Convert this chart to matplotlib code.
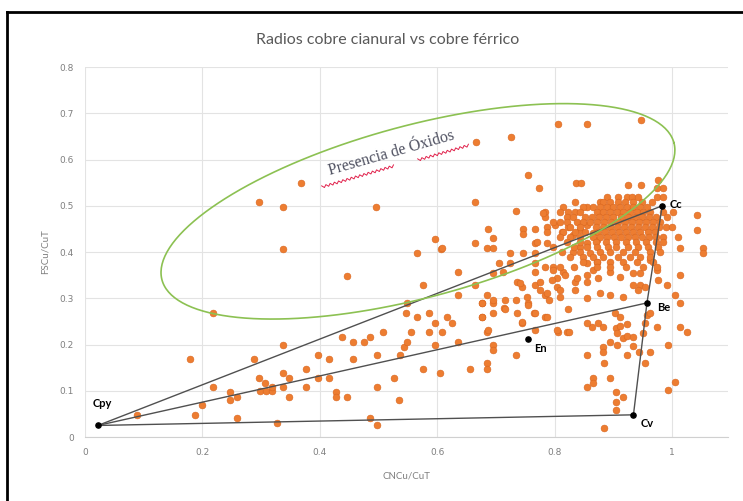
"""
Radios cobre cianural vs cobre férrico: dispersión CNCu/CuT vs FSCu/CuT
con los polos mineralógicos (Cpy, Cc, Be, Cv, En) y la zona de óxidos.
Salida: out.png
"""
import matplotlib
matplotlib.use("Agg")
import matplotlib.pyplot as plt  # noqa: E402
import numpy as np  # noqa: E402
from matplotlib.lines import Line2D  # noqa: E402

# --- Muestras dispersas (CNCu/CuT, FSCu/CuT) ---
bajos_x = [0.179, 0.218, 0.089, 0.187, 0.199, 0.218, 0.247, 0.247, 0.259, 0.259,
           0.288, 0.296, 0.307, 0.298, 0.309, 0.318, 0.318, 0.327, 0.337, 0.337,
           0.337, 0.348, 0.348, 0.376, 0.376, 0.397, 0.397, 0.416, 0.416, 0.428,
           0.428, 0.438, 0.446, 0.457, 0.457, 0.475, 0.486, 0.508, 0.497, 0.497,
           0.526, 0.535, 0.486, 0.497, 0.537, 0.543, 0.549, 0.555, 0.547, 0.566,
           0.586, 0.586, 0.596, 0.608, 0.625, 0.617, 0.596, 0.635, 0.576, 0.605,
           0.656, 0.685, 0.685, 0.676, 0.685, 0.695, 0.695, 0.695, 0.714, 0.734,
           0.744, 0.765, 0.784, 0.806, 0.821, 0.676, 0.695, 0.754]
bajos_y = [0.168, 0.268, 0.048, 0.048, 0.069, 0.108, 0.097, 0.080, 0.086, 0.041,
           0.168, 0.127, 0.117, 0.100, 0.100, 0.100, 0.108, 0.030, 0.198, 0.138,
           0.108, 0.127, 0.086, 0.147, 0.108, 0.177, 0.127, 0.168, 0.127, 0.097,
           0.086, 0.216, 0.086, 0.205, 0.168, 0.205, 0.216, 0.227, 0.177, 0.108,
           0.127, 0.080, 0.041, 0.026, 0.177, 0.194, 0.205, 0.227, 0.268, 0.259,
           0.268, 0.227, 0.246, 0.227, 0.246, 0.259, 0.199, 0.205, 0.147, 0.138,
           0.147, 0.160, 0.147, 0.259, 0.227, 0.268, 0.199, 0.188, 0.279, 0.177,
           0.246, 0.268, 0.259, 0.227, 0.227, 0.290, 0.290, 0.290]

oxidos_x = [0.296, 0.337, 0.368, 0.337, 0.446, 0.496, 0.666, 0.726, 0.806, 0.855,
            0.947, 0.755, 0.773, 0.664, 0.734, 0.784, 0.784, 0.814, 0.835, 0.855,
            0.836, 0.845, 0.925, 0.947, 0.976, 0.985, 0.596, 0.606, 0.566, 0.576,
            0.549, 0.636, 0.608, 0.636]
oxidos_y = [0.508, 0.497, 0.549, 0.406, 0.348, 0.497, 0.637, 0.648, 0.676, 0.676,
            0.685, 0.566, 0.538, 0.508, 0.488, 0.486, 0.475, 0.497, 0.508, 0.497,
            0.549, 0.549, 0.544, 0.544, 0.555, 0.538, 0.428, 0.406, 0.397, 0.328,
            0.290, 0.356, 0.408, 0.307]

medios_x = [0.686, 0.746, 0.746, 0.767, 0.695, 0.664, 0.685, 0.695, 0.724, 0.746,
            0.767, 0.767, 0.787, 0.705, 0.724, 0.767, 0.767, 0.695, 0.712, 0.797,
            0.814, 0.664, 0.736, 0.744, 0.767, 0.775, 0.804, 0.804, 0.835, 0.835,
            0.855, 0.855, 0.685, 0.695, 0.716, 0.734, 0.755, 0.784, 0.790, 0.676,
            0.716, 0.736, 0.767, 0.787, 0.823, 0.676, 0.686, 0.744, 0.767, 0.804,
            0.864, 0.780, 0.801, 0.813, 0.823, 0.831, 0.843, 0.855, 0.865, 0.872,
            0.855, 0.843, 0.831, 0.860, 0.872, 0.855, 0.865, 0.753, 0.741, 0.775,
            0.796, 0.809]
medios_y = [0.449, 0.449, 0.440, 0.449, 0.430, 0.419, 0.408, 0.408, 0.397, 0.397,
            0.419, 0.397, 0.419, 0.376, 0.376, 0.376, 0.356, 0.354, 0.356, 0.367,
            0.356, 0.328, 0.335, 0.324, 0.328, 0.335, 0.343, 0.324, 0.335, 0.317,
            0.335, 0.300, 0.307, 0.296, 0.296, 0.296, 0.285, 0.307, 0.296, 0.289,
            0.276, 0.268, 0.268, 0.259, 0.276, 0.259, 0.231, 0.248, 0.231, 0.231,
            0.238, 0.484, 0.458, 0.443, 0.454, 0.436, 0.447, 0.458, 0.441, 0.425,
            0.419, 0.410, 0.400, 0.397, 0.378, 0.376, 0.361, 0.302, 0.333, 0.317,
            0.339, 0.317]

derecha_x = [0.797, 0.818, 0.838, 0.855, 0.874, 0.894, 0.911, 0.934, 0.945, 0.934,
             0.945, 0.954, 0.942, 0.917, 0.894, 0.877, 0.809, 0.787, 0.962, 0.974,
             0.903, 0.911, 0.874, 0.882, 0.855, 0.825, 0.905, 0.911, 0.923, 0.906,
             0.954, 0.957, 0.951, 0.962, 0.974, 1.014, 1.026, 0.993, 1.005, 0.993,
             1.014, 0.991, 1.005, 1.014, 0.976, 1.043, 1.043, 1.053, 1.053, 1.014,
             0.855, 0.882, 0.882, 0.894, 0.906, 0.917, 0.923, 0.934, 0.923, 0.934,
             0.944, 0.954, 0.884, 0.865, 0.865, 0.855, 0.894, 0.905, 0.917, 0.905,
             0.905, 0.884, 0.962]
derecha_y = [0.361, 0.350, 0.343, 0.350, 0.343, 0.356, 0.346, 0.354, 0.354, 0.328,
             0.328, 0.324, 0.317, 0.302, 0.307, 0.311, 0.302, 0.311, 0.382, 0.361,
             0.268, 0.259, 0.246, 0.238, 0.246, 0.227, 0.235, 0.240, 0.244, 0.225,
             0.246, 0.263, 0.225, 0.184, 0.238, 0.238, 0.227, 0.199, 0.119, 0.101,
             0.350, 0.328, 0.307, 0.289, 0.339, 0.479, 0.447, 0.408, 0.397, 0.408,
             0.177, 0.194, 0.184, 0.205, 0.199, 0.214, 0.218, 0.216, 0.177, 0.197,
             0.184, 0.160, 0.160, 0.127, 0.117, 0.108, 0.127, 0.097, 0.086, 0.076,
             0.058, 0.019, 0.268]

# --- Nube densa cerca de Cc, leída por filas (FSCu/CuT de la fila, CNCu/CuT de cada punto) ---
nube_filas_y = [0.538, 0.518, 0.508, 0.497, 0.486, 0.475, 0.464, 0.454, 0.443,
                0.432, 0.421, 0.410, 0.400, 0.389, 0.378, 0.367]
nube_filas_x = [
    [0.974],
    [0.889, 0.908, 0.923, 0.932, 0.942, 0.974, 0.985],
    [0.877, 0.882, 0.894, 0.908, 0.920, 0.934, 0.949, 0.966],
    [0.848, 0.865, 0.877, 0.889, 0.899, 0.911, 0.923, 0.934, 0.945, 0.957],
    [0.809, 0.823, 0.835, 0.843, 0.872, 0.882, 0.894, 0.906, 0.917, 0.928, 0.940,
     0.951, 0.963, 0.985, 1.002],
    [0.821, 0.831, 0.852, 0.864, 0.876, 0.888, 0.900, 0.912, 0.924, 0.936, 0.948,
     0.960, 0.972, 0.991],
    [0.797, 0.809, 0.821, 0.838, 0.848, 0.860, 0.872, 0.884, 0.896, 0.908, 0.920,
     0.932, 0.944, 0.956, 0.968, 0.980],
    [0.787, 0.826, 0.843, 0.870, 0.882, 0.894, 0.906, 0.918, 0.930, 0.942, 0.954,
     0.966, 0.978, 0.990, 1.000],
    [0.787, 0.814, 0.834, 0.852, 0.874, 0.886, 0.898, 0.910, 0.922, 0.934, 0.946,
     0.958, 0.970],
    [0.809, 0.826, 0.843, 0.865, 0.877, 0.889, 0.901, 0.913, 0.925, 0.937, 0.949,
     0.961, 0.973, 0.985, 1.010],
    [0.770, 0.820, 0.843, 0.870, 0.887, 0.905, 0.922, 0.939, 0.956, 0.973, 0.985],
    [0.797, 0.832, 0.855, 0.872, 0.890, 0.904, 0.924, 0.941, 0.958, 0.975],
    [0.812, 0.843, 0.877, 0.894, 0.917, 0.937, 0.963, 0.980],
    [0.826, 0.848, 0.865, 0.882, 0.908, 0.928, 0.945, 0.963],
    [0.848, 0.872, 0.894, 0.917, 0.940, 0.968],
    [0.784, 0.809, 0.832, 0.872, 0.894, 0.922, 0.951, 0.974],
]

# --- Polos mineralógicos ---
polos = ["Cpy", "Cc", "Be", "Cv", "En"]
polos_x = [0.022, 0.983, 0.957, 0.934, 0.755]
polos_y = [0.025, 0.500, 0.290, 0.048, 0.212]
# trazos entre polos
enlaces = [("Cpy", "Cc"), ("Cpy", "Be"), ("Cpy", "Cv"), ("Cv", "Be"), ("Be", "Cc")]

naranja = "#ED7D31"
gris_txt = "#7F7F7F"
grid_col = "#E3E3E3"

nube_x = [x for fila in nube_filas_x for x in fila]
nube_y = [y for y, fila in zip(nube_filas_y, nube_filas_x) for _ in fila]
cn = np.array(bajos_x + oxidos_x + medios_x + derecha_x + nube_x)
fs = np.array(bajos_y + oxidos_y + medios_y + derecha_y + nube_y)

fig = plt.figure(figsize=(7.43, 5.01), dpi=100)
ax = fig.add_axes([0.1144, 0.1277, 0.8654, 0.7385])
ax.set_xlim(0, 1.095)
ax.set_ylim(0, 0.8)
ax.set_xticks(np.arange(0, 1.01, 0.2))
ax.set_xticklabels(["0", "0.2", "0.4", "0.6", "0.8", "1"])
ax.set_yticks(np.arange(0, 0.81, 0.1))
ax.set_yticklabels(["0", "0.1", "0.2", "0.3", "0.4", "0.5", "0.6", "0.7", "0.8"])
ax.grid(True, color=grid_col, lw=0.8)
ax.set_axisbelow(True)
for s in ["top", "right", "left"]:
    ax.spines[s].set_visible(False)
ax.spines["bottom"].set_color("#D0D0D0")
ax.tick_params(length=0, labelsize=6.5, labelcolor=gris_txt, pad=8)

ax.scatter(cn, fs, s=24, color=naranja, edgecolors="#D9661F", linewidths=0.4, zorder=3)

idx = {p: i for i, p in enumerate(polos)}
for a, b in enlaces:
    ax.plot([polos_x[idx[a]], polos_x[idx[b]]], [polos_y[idx[a]], polos_y[idx[b]]],
            color="#505050", lw=1.0, zorder=4)
ax.scatter(polos_x, polos_y, s=14, color="black", zorder=5)

offs = {"Cpy": (3, 16), "Cc": (5, 1), "Be": (7, -3), "Cv": (5, -6), "En": (4, -7)}
for p, x, y in zip(polos, polos_x, polos_y):
    dx, dy = offs[p]
    ax.annotate(p, (x, y), xytext=(dx, dy), textcoords="offset points",
                ha="center" if p == "Cpy" else "left", va="center",
                fontsize=8, fontweight="bold", family="Lato", color="black", zorder=6)

# elipse "Presencia de Óxidos" (dibujada en pixeles para conservar la forma)
cx, cy = ax.transData.transform((0.567, 0.488))
a_px, b_px, ang = 265, 86, np.radians(15.0)
t = np.linspace(0, 2 * np.pi, 300)
ex = cx + a_px * np.cos(t) * np.cos(ang) - b_px * np.sin(t) * np.sin(ang)
ey = cy + a_px * np.cos(t) * np.sin(ang) + b_px * np.sin(t) * np.cos(ang)
exy = ax.transData.inverted().transform(np.column_stack([ex, ey]))
ax.plot(exy[:, 0], exy[:, 1], color="#8CC152", lw=1.2, zorder=4)

ax.text(0.524, 0.605, "Presencia de Óxidos", rotation=16, rotation_mode="anchor",
        ha="center", va="baseline", family="Liberation Serif", fontsize=11.5,
        color="#4F5161", zorder=6)


def subrayado(p0, p1):
    """Subrayado ondulado rojo (corrector ortográfico) entre dos puntos en pixeles."""
    p0, p1 = np.array(p0, float), np.array(p1, float)
    L = np.hypot(*(p1 - p0))
    u = (p1 - p0) / L
    n = np.array([-u[1], u[0]])
    k = np.arange(0, L, 2.2)
    w = np.where(np.arange(len(k)) % 2 == 0, 1.2, -1.2)
    pts = p0 + np.outer(k, u) + np.outer(w, n)
    d = ax.transData.inverted().transform(pts)
    ax.plot(d[:, 0], d[:, 1], color="#E0204A", lw=0.7, zorder=6)


H = 501
subrayado((322, H - 187), (394, H - 166))
subrayado((418, H - 160), (470, H - 145))

ax.set_xlabel("CNCu/CuT", fontsize=7, color=gris_txt, family="Lato", labelpad=10)
ax.set_ylabel("FSCu/CuT", fontsize=7, color=gris_txt, family="Lato", labelpad=7)
fig.text(0.522, 0.92, "Radios cobre cianural vs cobre férrico", ha="center", va="center",
         fontsize=11.5, color="#595959", family="Lato")

# marco negro del recorte
fig.add_artist(Line2D([7 / 743, 7 / 743], [0, 1 - 12 / 501], color="black", lw=2,
                      transform=fig.transFigure))
fig.add_artist(Line2D([7 / 743, 1], [1 - 12 / 501, 1 - 12 / 501], color="black", lw=2,
                      transform=fig.transFigure))

fig.savefig("out.png", dpi=100)
